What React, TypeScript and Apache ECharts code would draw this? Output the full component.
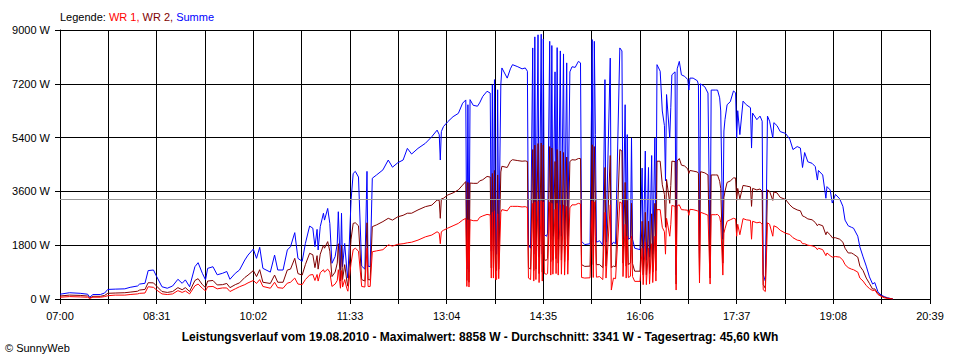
import { useEffect, useRef } from "react";
import * as echarts from "echarts";

// minutes after 07:00
const minutes = [
  0, 9, 19, 26, 28, 31, 38, 42, 45, 52, 61, 66, 73, 75, 80, 83, 88, 91, 96, 101,
  106, 111, 115, 118, 122, 127, 130, 134, 137, 139, 144, 148, 153, 157, 160, 165, 169, 174, 177, 182,
  185, 188, 191, 198, 202, 205, 210, 214, 217, 221, 224, 228, 231, 235, 238, 240, 242, 243, 245, 248,
  249, 252, 254, 256, 259, 261, 262, 264, 265, 266, 268, 270, 271, 274, 276, 278, 281, 284, 287, 289,
  290, 292, 294, 298, 304, 309, 313, 318, 323, 327, 331, 337, 344, 350, 355, 357, 358, 359, 361, 365,
  370, 375, 379, 382, 383, 384, 385, 386, 389, 393, 395, 398, 402, 405, 406, 407, 408, 409, 410, 411,
  412, 413, 415, 416, 421, 424, 426, 431, 435, 438, 440, 441, 443, 445, 446, 447, 448, 450, 451, 453,
  454, 455, 456, 458, 459, 461, 462, 463, 464, 466, 467, 468, 469, 471, 472, 474, 475, 477, 478, 480,
  482, 485, 488, 490, 491, 494, 499, 501, 502, 503, 504, 505, 508, 511, 513, 514, 518, 519, 521, 523,
  527, 529, 530, 532, 533, 534, 535, 537, 538, 539, 541, 546, 548, 549, 551, 552, 554, 555, 557, 558,
  560, 561, 562, 565, 567, 569, 570, 571, 574, 575, 576, 579, 580, 581, 583, 585, 588, 591, 592, 593,
  596, 600, 601, 602, 603, 607, 610, 612, 613, 617, 619, 621, 622, 624, 625, 626, 628, 631, 634, 636,
  637, 638, 640, 643, 646, 650, 651, 652, 656, 659, 661, 662, 664, 666, 668, 671, 672, 675, 678, 683,
  687, 690, 694, 697, 699, 701, 704, 708, 711, 713, 714, 718, 721, 722, 725, 727, 730, 734, 737, 739,
  742, 745, 747, 751, 753, 756, 759, 762, 765, 767, 770, 773, 776, 779, 784,
];

const summe = [
  160, 210, 190, 160, 60, 150, 150, 200, 320, 330, 340, 390, 435, 500, 525, 950, 970, 750, 410, 360,
  435, 660, 525, 640, 410, 1080, 1215, 860, 640, 1025, 1080, 810, 860, 920, 660, 860, 970, 1305, 1470, 1670,
  1360, 1730, 1025, 900, 1470, 970, 970, 1640, 1750, 2220, 1360, 1260, 1860, 2440, 2370, 1750, 2330, 1640, 2420, 2870,
  2640, 3030, 2530, 1195, 1420, 1860, 2920, 970, 2870, 1080, 1860, 970, 700, 3300, 4200, 4270, 4080, 1100, 1000, 4270,
  1100, 1080, 4040, 4150, 4320, 4650, 4410, 4560, 4650, 5040, 4850, 5040, 5210, 5430, 5650, 5500, 4650, 5600, 5770, 5930,
  6100, 6210, 6550, 6660, 1000, 6500, 900, 6670, 6480, 6450, 6560, 6780, 6950, 6890, 1600, 7170, 1600, 7340, 1500, 1500,
  7000, 1600, 7170, 7730, 7390, 7700, 7840, 7770, 7700, 7730, 7620, 1800, 1700, 8400, 1500, 8770, 1600, 8840, 1400, 8858,
  1500, 8700, 2150, 2100, 2200, 8620, 2000, 8480, 2100, 7600, 2200, 8410, 2000, 8300, 2100, 8200, 2000, 7900, 2100, 7600,
  7770, 7750, 7950, 7900, 1930, 1820, 1850, 8680, 1900, 8620, 5500, 1900, 1950, 1800, 7340, 1900, 8060, 1800, 1900, 1850,
  8400, 8300, 2000, 6500, 1900, 5500, 2000, 2040, 5390, 2000, 1700, 1650, 4380, 1300, 4950, 1300, 4400, 1400, 4800, 1500,
  5390, 1600, 7840, 7620, 6290, 5800, 3950, 6840, 5390, 6400, 7500, 7600, 810, 7700, 7950, 7500, 7450, 7340, 6990, 7390,
  7390, 7300, 7170, 1370, 7200, 7100, 6890, 1200, 6990, 6990, 6990, 6730, 6290, 2000, 5620, 6000, 6500, 6600, 6960, 6900,
  5390, 6300, 5500, 6620, 6500, 6400, 5050, 6220, 6000, 6120, 5950, 810, 600, 6120, 5950, 5390, 5900, 5800, 5600, 5540,
  5350, 5000, 5100, 5050, 4400, 4900, 4590, 4540, 4430, 3980, 4300, 4150, 3370, 3760, 3650, 3210, 3500, 3350, 3100, 2640,
  2450, 2400, 2370, 2100, 1740, 1410, 1100, 740, 500, 550, 240, 130, 80, 40, 0,
];

const wr2 = [
  100, 130, 120, 100, 30, 90, 90, 120, 190, 200, 210, 230, 260, 300, 320, 545, 540, 430, 250, 220,
  250, 380, 310, 380, 250, 620, 680, 480, 380, 600, 620, 470, 480, 520, 380, 480, 540, 720, 800, 950,
  750, 980, 560, 520, 800, 560, 560, 970, 1000, 1360, 850, 800, 1150, 1530, 1480, 1050, 1450, 1000, 1500, 1800,
  1700, 1920, 1600, 750, 900, 1200, 1850, 600, 1800, 650, 1150, 600, 430, 2000, 2530, 2550, 2450, 650, 600, 2550,
  650, 640, 2420, 2480, 2590, 2700, 2640, 2750, 2800, 2870, 2870, 2980, 3090, 3140, 3310, 3300, 2700, 3350, 3370, 3480,
  3550, 3650, 3810, 3930, 620, 3900, 560, 3880, 3870, 3870, 3950, 3990, 4100, 4080, 1040, 4200, 1040, 4300, 950, 950,
  4150, 1000, 4250, 4440, 4400, 4610, 4660, 4630, 4610, 4620, 4600, 1050, 1000, 5000, 950, 5150, 1000, 5200, 850, 5220,
  900, 5150, 1300, 1300, 1350, 5100, 1250, 5050, 1300, 4600, 1350, 5000, 1200, 4950, 1300, 4900, 1250, 4750, 1300, 4600,
  4660, 4650, 4700, 4700, 1150, 1090, 1100, 5160, 1150, 5100, 3300, 1150, 1150, 1050, 4400, 1100, 4800, 1050, 1100, 1080,
  5000, 4950, 1200, 3900, 1100, 3300, 1150, 1200, 3200, 1180, 930, 930, 2600, 810, 2900, 810, 2600, 850, 2850, 900,
  3200, 950, 4610, 4610, 3820, 3500, 2400, 4000, 3200, 3800, 4610, 4600, 500, 4620, 4700, 4480, 4450, 4350, 4200, 4300,
  4280, 4250, 4200, 810, 4260, 4220, 4150, 700, 4150, 4150, 4150, 3940, 3700, 1200, 3400, 3600, 3900, 3950, 4050, 4050,
  3300, 3700, 3350, 3800, 3780, 3750, 3100, 3700, 3650, 3680, 3600, 480, 360, 3650, 3600, 3300, 3580, 3550, 3400, 3330,
  3150, 3050, 2980, 2950, 2780, 2750, 2680, 2650, 2560, 2450, 2500, 2450, 2150, 2250, 2150, 2050, 2050, 2000, 1900, 1700,
  1540, 1540, 1500, 1400, 1100, 950, 700, 520, 330, 340, 180, 100, 60, 30, 0,
];

const wr1 = [
  60, 80, 70, 60, 20, 60, 60, 80, 110, 130, 130, 150, 170, 190, 200, 410, 390, 300, 170, 150,
  170, 280, 220, 270, 170, 440, 500, 360, 270, 410, 420, 340, 370, 370, 250, 340, 410, 480, 540, 620,
  520, 650, 420, 360, 560, 380, 360, 530, 560, 700, 500, 480, 650, 800, 820, 620, 820, 600, 880, 980,
  900, 1000, 900, 420, 500, 620, 980, 360, 950, 400, 650, 350, 260, 1200, 1650, 1700, 1600, 420, 400, 1700,
  420, 420, 1580, 1610, 1650, 1810, 1770, 1830, 1850, 1880, 1900, 1970, 2080, 2140, 2250, 2200, 1850, 2250, 2300, 2370,
  2450, 2530, 2640, 2700, 420, 2650, 400, 2650, 2620, 2620, 2730, 2780, 2830, 2810, 700, 2900, 700, 2950, 650, 650,
  2850, 680, 2900, 2990, 2950, 3100, 3100, 3100, 3080, 3090, 3060, 700, 650, 3200, 600, 3250, 650, 3270, 550, 3280,
  600, 3250, 850, 830, 850, 3250, 800, 3200, 830, 3000, 850, 3200, 800, 3150, 830, 3150, 800, 3100, 830, 3050,
  3150, 3150, 3200, 3180, 720, 700, 710, 3280, 720, 3250, 2100, 730, 750, 650, 2900, 700, 3150, 300, 700, 680,
  3250, 3200, 750, 2500, 700, 2100, 720, 760, 2100, 750, 590, 590, 1700, 480, 1900, 480, 1700, 500, 1850, 550,
  2100, 600, 2990, 2990, 2400, 2250, 1500, 2700, 2100, 2500, 3130, 3100, 300, 3120, 3150, 2990, 2980, 2970, 2800, 3000,
  2990, 2950, 2940, 535, 2900, 2850, 2800, 500, 2820, 2820, 2830, 2750, 2550, 800, 2200, 2350, 2600, 2650, 2700, 2680,
  2100, 2500, 2150, 2690, 2650, 2630, 2000, 2600, 2550, 2570, 2500, 310, 250, 2550, 2500, 2100, 2450, 2400, 2300, 2200,
  2160, 2050, 1970, 1950, 1850, 1850, 1800, 1780, 1740, 1650, 1700, 1650, 1450, 1540, 1450, 1400, 1420, 1400, 1300, 1150,
  1050, 1000, 980, 900, 700, 600, 450, 350, 280, 300, 150, 90, 40, 20, 0,
];

const timeTickLabels = ["07:00", "08:31", "10:02", "11:33", "13:04", "14:35", "16:06", "17:37", "19:08", "20:39"];
const average = 3341;
const titleText =
  "Leistungsverlauf vom 19.08.2010 - Maximalwert: 8858 W - Durchschnitt: 3341 W - Tagesertrag: 45,60 kWh";
const copyrightText = "\u00A9 SunnyWeb";

const FONT = "Liberation Sans";

export default function App() {
  const ref = useRef<HTMLDivElement>(null);

  useEffect(() => {
    if (!ref.current) return;
    const chart = echarts.init(ref.current, null, { renderer: "svg" });
    const pairs = (vals: number[]) => minutes.map((m, i) => [m, vals[i]]);
    const lineSeries = (name: string, vals: number[], color: string, extra: any = {}) => ({
      name,
      type: "line",
      data: pairs(vals),
      showSymbol: false,
      symbol: "none",
      lineStyle: { color, width: 1 },
      itemStyle: { color },
      emphasis: { disabled: true },
      silent: true,
      ...extra,
    });

    chart.setOption({
      animation: false,
      backgroundColor: "#ffffff",
      textStyle: { fontFamily: FONT },
      grid: { left: 60, right: 30, top: 30, bottom: 61 },
      xAxis: {
        type: "value",
        min: 0,
        max: 819,
        interval: 45.5,
        axisLine: { show: true, lineStyle: { color: "#000", width: 1 } },
        axisTick: { show: true, length: 5, lineStyle: { color: "#000", width: 1 } },
        splitLine: { show: true, lineStyle: { color: "#000", width: 1 } },
        axisLabel: {
          color: "#000",
          fontSize: 11,
          fontFamily: FONT,
          margin: 11,
          formatter: (v: number) => {
            const idx = Math.round(v / 45.5);
            return idx % 2 === 0 ? timeTickLabels[idx / 2] ?? "" : "";
          },
        },
      },
      yAxis: {
        type: "value",
        min: 0,
        max: 9000,
        interval: 1800,
        axisLine: { show: true, lineStyle: { color: "#000", width: 1 } },
        axisTick: { show: true, length: 5, lineStyle: { color: "#000", width: 1 } },
        splitLine: { show: true, lineStyle: { color: "#000", width: 1 } },
        axisLabel: {
          color: "#000",
          fontSize: 11,
          fontFamily: FONT,
          margin: 10,
          formatter: (v: number) => `${v} W`,
        },
      },
      series: [
        lineSeries("Summe", summe, "#0000ff"),
        lineSeries("WR 2", wr2, "#800000"),
        lineSeries("WR 1", wr1, "#ff0000", {
          markLine: {
            silent: true,
            symbol: ["none", "none"],
            label: { show: false },
            lineStyle: { color: "#999999", type: "solid", width: 1 },
            data: [{ yAxis: average }],
          },
        }),
      ],
      graphic: [
        {
          type: "text",
          left: 60,
          top: 11,
          style: {
            text: "{k|Legende: }{a|WR 1, }{b|WR 2, }{c|Summe}",
            fontSize: 11,
            fontFamily: FONT,
            rich: {
              k: { fill: "#000000", fontSize: 11, fontFamily: FONT },
              a: { fill: "#ff0000", fontSize: 11, fontFamily: FONT },
              b: { fill: "#800000", fontSize: 11, fontFamily: FONT },
              c: { fill: "#0000ff", fontSize: 11, fontFamily: FONT },
            },
          },
        },
        {
          type: "text",
          x: 480,
          y: 337,
          style: {
            text: titleText,
            fill: "#000",
            fontSize: 12,
            fontWeight: "bold",
            fontFamily: FONT,
            align: "center",
            verticalAlign: "middle",
          },
        },
        {
          type: "text",
          x: 5,
          y: 348,
          style: {
            text: copyrightText,
            fill: "#000",
            fontSize: 11,
            fontFamily: FONT,
            align: "left",
            verticalAlign: "middle",
          },
        },
      ],
    });

    return () => chart.dispose();
  }, []);

  return (
    <div
      ref={ref}
      style={{ position: "absolute", left: 0, top: 0, width: 960, height: 360, background: "#fff" }}
    />
  );
}
